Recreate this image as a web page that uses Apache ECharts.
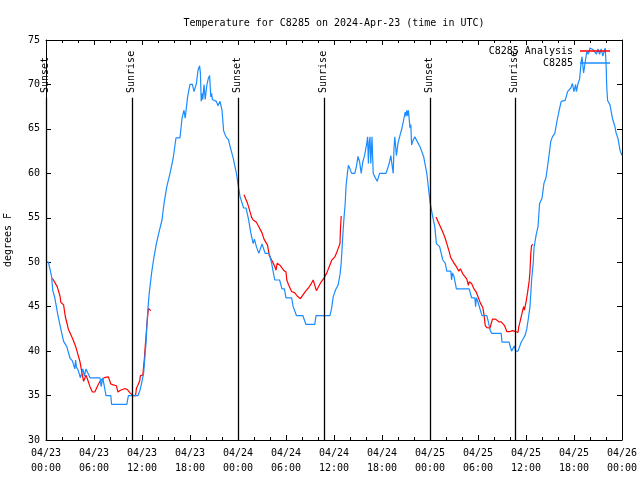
<!DOCTYPE html>
<html>
<head>
<meta charset="utf-8">
<script src="https://cdn.jsdelivr.net/npm/echarts@6/dist/echarts.min.js"></script>
<style>html,body{margin:0;padding:0;background:#fff}#c{width:640px;height:480px}</style>
</head>
<body>
<div id="c"></div>
<script>
// ---- data (x = hours since 2024-04-23 00:00 UTC) ----
var xTickLabels = ['04/23\n00:00','04/23\n06:00','04/23\n12:00','04/23\n18:00','04/24\n00:00','04/24\n06:00','04/24\n12:00','04/24\n18:00','04/25\n00:00','04/25\n06:00','04/25\n12:00','04/25\n18:00','04/26\n00:00'];

var obsHours = [0.0,0.3,0.7,0.85,1.1,1.3,1.5,1.8,2.2,2.6,3.0,3.3,3.6,3.7,3.8,4.0,4.3,4.6,4.8,5.0,5.2,5.5,6.75,6.9,7.1,7.3,7.5,8.1,8.2,10.1,10.3,11.5,11.75,12.0,12.2,12.3,12.5,12.7,12.9,13.2,13.5,13.8,14.1,14.5,14.75,15.1,15.5,15.9,16.25,16.75,17.0,17.25,17.4,17.7,18.0,18.3,18.5,18.8,19.0,19.2,19.3,19.4,19.5,19.6,19.75,19.9,20.1,20.3,20.45,20.6,20.7,20.8,21.0,21.3,21.5,21.75,22.0,22.2,22.5,22.8,23.05,23.4,23.8,24.0,24.25,24.7,25.0,25.3,25.6,25.9,26.05,26.3,26.6,27.0,27.2,27.4,27.9,28.2,28.4,28.6,29.2,29.5,29.8,30.0,30.7,30.9,31.3,32.1,32.5,33.6,33.75,35.5,35.7,35.9,36.2,36.5,36.75,36.9,37.0,37.1,37.25,37.4,37.5,37.7,37.8,38.0,38.2,38.6,38.8,39.0,39.2,39.4,39.6,39.8,40.1,40.2,40.3,40.4,40.5,40.6,40.75,40.9,41.1,41.4,41.7,42.5,42.9,43.1,43.3,43.4,43.5,43.6,43.8,44.0,44.2,44.5,44.7,44.9,45.0,45.1,45.2,45.3,45.5,45.6,45.7,45.9,46.1,46.75,47.2,47.6,47.8,48.0,48.3,48.6,48.8,49.2,49.6,49.9,50.1,50.6,50.7,50.8,51.0,51.3,52.9,53.2,53.6,53.7,53.8,54.0,54.5,55.1,55.3,55.5,55.7,56.9,57.0,57.9,58.0,58.2,58.4,58.55,58.7,59.0,59.2,59.4,59.6,59.9,60.1,60.3,60.5,60.7,60.9,61.0,61.25,61.5,61.7,62.0,62.25,62.5,62.8,63.1,63.3,63.6,63.9,64.1,64.4,64.9,65.2,65.6,65.8,66.0,66.2,66.3,66.5,66.7,66.9,67.0,67.2,67.4,67.6,67.8,68.0,68.4,68.6,68.8,69.0,69.2,69.4,69.6,69.9,70.0,70.1,70.2,70.5,70.8,71.1,71.25,71.5,71.75,72.0];
var obsTemps = [50.0,50.0,48.4,46.8,46.0,46.0,44.0,42.7,41.1,40.5,39.2,38.9,38.0,39.0,38.2,37.9,37.0,38.0,37.2,38.0,38.0,37.0,37.0,36.0,37.0,36.0,35.0,35.0,34.0,34.0,35.0,35.0,35.6,36.6,37.5,38.6,40.9,44.3,46.5,48.8,50.6,52.1,53.3,54.75,56.6,58.5,60.0,61.7,64.0,64.0,66.2,67.1,66.2,68.6,70.0,70.0,69.2,70.1,71.6,72.1,71.3,68.1,69.0,68.3,70.0,68.3,69.9,70.7,71.0,68.6,69.0,68.3,68.3,68.1,67.6,68.1,67.1,64.8,64.1,63.8,62.9,61.7,60.0,58.8,57.4,56.1,56.1,54.9,53.3,52.1,52.6,51.75,51.0,52.05,52.0,51.0,51.0,49.9,48.9,48.0,48.0,47.0,47.0,46.0,46.0,45.0,44.0,44.0,43.0,43.0,44.0,44.0,44.8,46.1,46.9,47.4,48.6,49.9,51.4,53.0,55.0,56.6,58.5,60.2,60.9,60.5,60.0,60.0,60.75,61.9,61.3,60.0,61.3,61.9,63.4,64.1,61.1,63.4,64.1,61.1,64.1,60.0,59.6,59.1,60.0,60.0,61.1,62.0,62.0,60.0,62.8,64.1,62.0,63.4,64.1,65.1,65.1,66.9,66.4,67.1,66.5,67.1,65.1,65.5,63.2,63.75,64.1,63.0,61.9,60.0,58.4,56.8,55.3,54.0,52.1,51.75,50.25,49.9,49.0,49.0,48.0,48.8,48.4,47.0,47.0,46.0,46.0,45.0,46.0,45.5,44.0,44.0,43.3,42.4,42.0,42.0,41.0,41.0,40.6,40.0,40.0,40.6,40.0,40.0,40.5,41.0,41.3,41.8,42.5,43.7,45.0,48.0,49.9,51.6,53.0,54.0,56.6,57.2,58.9,59.5,61.5,63.6,64.1,64.5,66.0,66.9,68.1,68.2,69.2,69.6,70.1,69.2,70.0,69.2,70.1,70.6,72.6,73.1,71.3,72.5,73.7,73.4,74.1,73.9,74.1,73.4,74.0,73.4,74.0,73.2,74.1,72.5,69.6,68.2,67.7,66.2,65.3,64.6,63.9,62.6,62.0];

var anaHours = [0.8,1.0,1.4,1.75,1.85,2.2,2.4,2.8,3.0,3.4,3.75,4.0,4.25,4.5,4.7,5.0,5.2,5.5,5.8,6.1,6.4,6.75,7.1,7.4,7.8,8.1,8.4,8.8,9.0,9.3,9.9,10.2,10.5,10.9,11.2,11.3,11.7,11.8,12.1,12.3,12.4,12.5,12.6,12.8,13.1,
  18.0,
  24.75,25.0,25.2,25.4,25.7,25.9,26.3,26.6,27.0,27.25,27.4,27.7,27.9,28.2,28.4,28.6,28.75,28.9,29.3,29.7,30.0,30.1,30.3,30.7,30.9,31.1,31.4,31.8,32.1,32.5,32.8,33.1,33.4,33.6,33.8,34.1,34.4,34.75,35.1,35.4,35.7,36.1,36.3,36.5,36.75,36.8,36.9,
  42.0,
  48.75,49.0,49.3,49.6,49.9,50.1,50.4,50.6,50.8,51.0,51.3,51.6,51.8,52.1,52.6,52.8,52.9,53.2,53.5,53.8,54.0,54.3,54.6,54.75,54.9,55.1,55.5,55.7,55.8,55.95,56.2,56.6,56.9,57.3,57.6,58.0,58.3,58.7,59.0,59.1,59.25,59.5,59.7,59.8,60.0,60.2,60.4,60.5,60.6,60.7,60.9];
var anaTemps = [48.2,48.2,47.25,46.2,45.5,45.2,43.95,42.45,42.4,41.25,40.4,40.2,38.8,37.5,36.6,37.3,36.8,36.0,35.4,35.4,36.0,36.6,36.9,37.05,37.1,36.3,36.2,36.1,35.4,35.6,35.8,35.65,35.3,35.0,35.0,35.8,36.6,37.25,37.3,39.2,40.5,41.6,42.9,44.8,44.55,
  null,
  57.6,57.5,56.6,56.0,55.05,54.75,54.5,54.0,53.3,52.6,52.5,51.9,50.8,50.25,49.9,49.5,49.1,49.9,49.6,49.1,48.9,48.0,47.5,46.7,46.8,46.55,46.2,45.9,46.3,46.8,47.1,47.5,48.0,48.2,46.8,47.3,47.8,48.2,48.8,49.5,50.2,50.6,51.0,51.5,52.1,53.6,55.2,
  null,
  55.1,54.9,54.0,53.4,52.7,52.1,51.2,50.5,50.6,49.9,49.5,49.0,49.25,48.7,48.1,47.4,47.8,47.6,47.0,46.6,46.5,45.4,44.9,44.1,42.9,42.65,42.6,42.4,43.6,43.8,43.6,43.3,43.3,42.9,42.2,42.2,42.3,42.2,42.1,42.75,43.3,44.25,45.0,44.6,45.5,46.6,47.9,49.0,51.0,51.9,52.0];

var eventHours = [0.05, 10.8, 24.04, 34.8, 48.0, 58.7];
var eventNames = ['Sunset','Sunrise','Sunset','Sunrise','Sunset','Sunrise'];

var seriesNames = ['C8285 Analysis', 'C8285'];
var titleText = 'Temperature for C8285 on 2024-Apr-23 (time in UTC)';
var yName = 'degrees F';

// ---- build ----
function pairs(xs, ys){ return xs.map(function(x,i){ return [x, ys[i] === null ? '-' : ys[i]]; }); }
var FONT = 'DejaVu Sans Mono';
var YMIN = 30, YMAX = 75, LINE_TOP = 68.5, LABEL_BASE = 69.04;

var markLines = eventHours.map(function(h){ return [{coord:[h, YMIN]}, {coord:[h, LINE_TOP]}]; });
var markPoints = eventHours.map(function(h, i){
  return {coord:[h, LABEL_BASE], value: eventNames[i]};
});

var chart = echarts.init(document.getElementById('c'), null, {renderer:'canvas'});
var axisCommon = {
  axisLine:{show:true, onZero:false, lineStyle:{color:'#000', width:1}},
  splitLine:{show:false}
};
chart.setOption({
  animation:false,
  backgroundColor:'#fff',
  textStyle:{fontFamily:FONT},
  title:{text:titleText, left:329, top:13, textAlign:'center',
    textStyle:{fontFamily:FONT, fontSize:10, fontWeight:'normal', color:'#000'}},
  grid:{left:46, right:18, top:40, bottom:40, containLabel:false, outerBoundsMode:'none'},
  legend:{
    data:seriesNames.map(function(n){ return {name:n, icon:'rect'}; }),
    orient:'vertical', right:30, top:46, align:'right',
    itemWidth:30, itemHeight:1.5, itemGap:2, padding:0,
    formatter:function(n){ var w=14; while(n.length<w) n=' '+n; return n; },
    textStyle:{fontFamily:FONT, fontSize:10, color:'#000', padding:[0,2,0,0]}
  },
  xAxis:[
    Object.assign({type:'value', position:'bottom', min:0, max:72, interval:6,
      axisTick:{show:true, inside:true, length:5, lineStyle:{color:'#000'}},
      minorTick:{show:true, splitNumber:3, length:3, lineStyle:{color:'#000'}},
      axisLabel:{color:'#000', fontFamily:FONT, fontSize:10, lineHeight:15, margin:6,
        formatter:function(v){ return xTickLabels[Math.round(v/6)]; }}}, axisCommon),
    Object.assign({type:'value', position:'top', min:0, max:72, interval:6,
      axisTick:{show:true, inside:true, length:5, lineStyle:{color:'#000'}},
      minorTick:{show:true, splitNumber:3, length:3, lineStyle:{color:'#000'}},
      axisLabel:{show:false}}, axisCommon)
  ],
  yAxis:[
    Object.assign({type:'value', position:'left', min:YMIN, max:YMAX, interval:5,
      name:yName, nameLocation:'middle', nameGap:33, nameRotate:90,
      nameTextStyle:{color:'#000', fontFamily:FONT, fontSize:10},
      axisTick:{show:true, inside:true, length:5, lineStyle:{color:'#000'}},
      axisLabel:{color:'#000', fontFamily:FONT, fontSize:10, margin:6}}, axisCommon),
    Object.assign({type:'value', position:'right', min:YMIN, max:YMAX, interval:5,
      axisTick:{show:true, inside:true, length:5, lineStyle:{color:'#000'}},
      axisLabel:{show:false}}, axisCommon)
  ],
  series:[
    {name:seriesNames[0], type:'line', data:pairs(anaHours, anaTemps), connectNulls:false,
      symbol:'none', color:'#ff0000', lineStyle:{width:1.2, color:'#ff0000'}, z:2,
      markLine:{silent:true, symbol:'none', animation:false,
        lineStyle:{color:'#000', width:1.3, type:'solid'}, label:{show:false}, data:markLines},
      markPoint:{silent:true, symbol:'circle', symbolSize:0, animation:false,
        label:{show:true, position:'inside', rotate:90, align:'left', verticalAlign:'middle',
          color:'#000', fontFamily:FONT, fontSize:10, offset:[0,-1],
          formatter:function(p){ return p.value; }},
        data:markPoints}
    },
    {name:seriesNames[1], type:'line', data:pairs(obsHours, obsTemps),
      symbol:'none', color:'#1a8cff', lineStyle:{width:1.2, color:'#1a8cff'}, z:3}
  ]
});
</script>
</body>
</html>
